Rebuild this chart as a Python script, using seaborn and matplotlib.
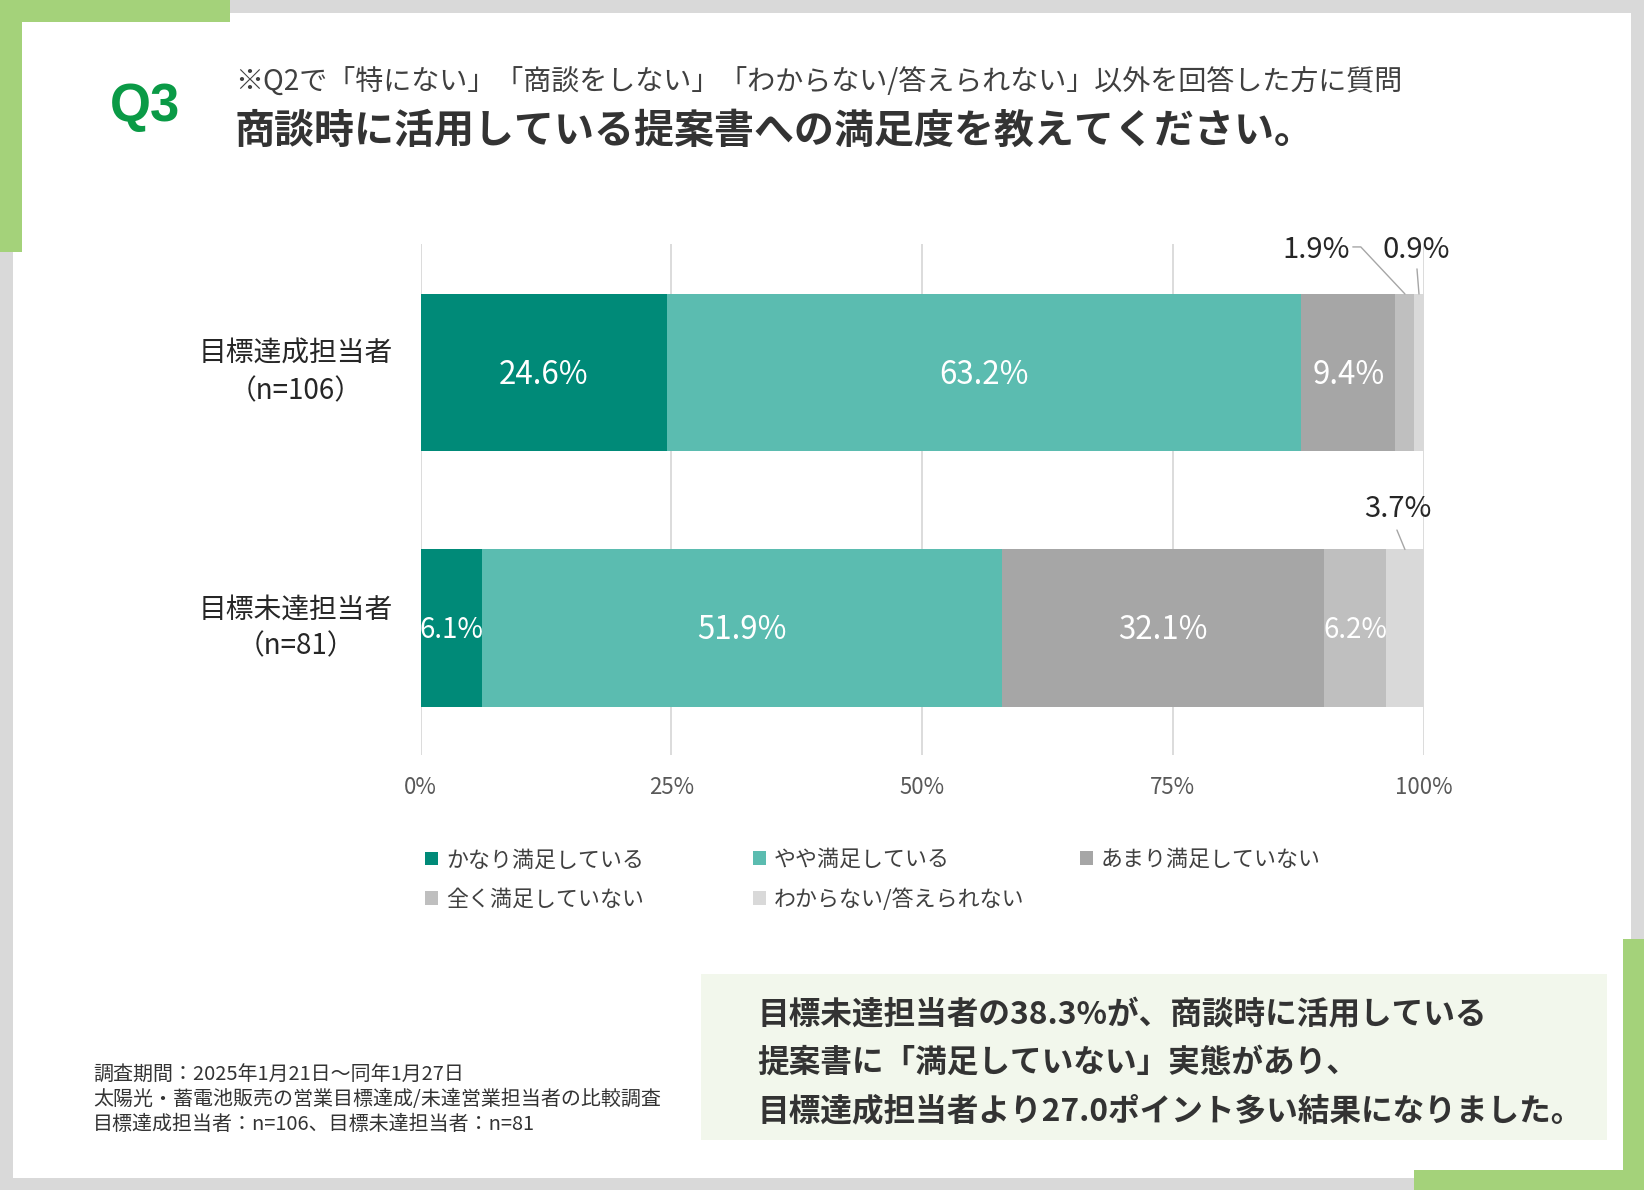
import matplotlib.pyplot as plt
import seaborn as sns
from matplotlib.patches import Rectangle, Patch

# データ
groups = ["目標達成担当者", "目標未達担当者"]
sample_sizes = [106, 81]
answers = ["かなり満足している", "やや満足している", "あまり満足していない",
           "全く満足していない", "わからない/答えられない"]
achieved = [24.6, 63.2, 9.4, 1.9, 0.9]
not_achieved = [6.1, 51.9, 32.1, 6.2, 3.7]
colors = ["#008a78", "#5bbcb0", "#a6a6a6", "#bfbfbf", "#d9d9d9"]
ticks = [0, 25, 50, 75, 100]

title = "商談時に活用している提案書への満足度を教えてください。"
subtitle = "※Q2で「特にない」「商談をしない」「わからない/答えられない」以外を回答した方に質問"
notes = ["調査期間：2025年1月21日～同年1月27日",
         "太陽光・蓄電池販売の営業目標達成/未達営業担当者の比較調査",
         "目標達成担当者：n=106、目標未達担当者：n=81"]
summary = ["目標未達担当者の38.3%が、商談時に活用している",
           "提案書に「満足していない」実態があり、",
           "目標達成担当者より27.0ポイント多い結果になりました。"]

sns.set_style("white")
plt.rcParams['font.family'] = ['Noto Sans CJK JP', 'DejaVu Sans']

W, H = 1644, 1190
fig = plt.figure(figsize=(W / 100, H / 100), dpi=100, facecolor="#d9d9d9")


def box(x0, y0, x1, y1, color, z=-2):
    # ピクセル座標（左上原点）で背景の四角形を描く
    fig.add_artist(Rectangle((x0 / W, 1 - y1 / H), (x1 - x0) / W, (y1 - y0) / H,
                             transform=fig.transFigure, facecolor=color,
                             edgecolor="none", zorder=z))


def ftext(x, y, s, **kw):
    fig.text(x / W, 1 - y / H, s, **kw)


# 枠
box(13, 13, 1631, 1178, "white", -3)
green = "#a4d27a"
box(0, 0, 230, 22, green)
box(0, 0, 22, 252, green)
box(1623, 939, 1644, 1190, green)
box(1414, 1170, 1644, 1190, green)
box(701, 974, 1607, 1140, "#f2f7ec")

# 見出し
ftext(145, 121, "Q3", color="#0a9a46", fontsize=38, weight="bold",
      family="Liberation Sans", ha="center", va="baseline")
ftext(235, 83, subtitle, color="#404040", fontsize=20.2, va="center")
ftext(235, 131, title, color="#333333", fontsize=28.8, weight="bold", va="center")

# グラフ
ax = fig.add_axes([420.5 / W, 1 - 755 / H, 1003 / W, 511 / H])
ax.set_facecolor("none")
labels = [f"{g}\n（n={n}）" for g, n in zip(groups, sample_sizes)]
bar_h = 0.615
left = [0.0, 0.0]
for k, ans in enumerate(answers):
    vals = [achieved[k], not_achieved[k]]
    sns.barplot(x=vals, y=labels, left=left, color=colors[k], saturation=1,
                width=bar_h, linewidth=0, ax=ax)
    left = [l + v for l, v in zip(left, vals)]

ax.set_xlim(0, 100)
ax.set_ylim(1.497, -0.503)
ax.set_xticks(ticks)
ax.set_xticklabels([f"{t}%" for t in ticks])
ax.grid(axis="x", color="#d9d9d9", lw=1.3)
ax.set_axisbelow(True)
ax.set_xlabel("")
ax.set_ylabel("")
sns.despine(ax=ax, left=True, bottom=True)
ax.tick_params(axis="x", length=0, pad=15, labelsize=16, labelcolor="#595959")
ax.tick_params(axis="y", length=0, pad=20, labelsize=20, labelcolor="#262626")
for lbl in ax.get_yticklabels():
    lbl.set_multialignment("center")
    lbl.set_linespacing(1.3)
    lbl.set_va("center")

# 数値ラベル
outside = {  # (行, 項目): テキスト位置のずれ, 引き出し線
    (0, 3): ((-8.9, -0.172), [(-5.2, -0.184), (-4.4, -0.184), (0, 0)]),
    (0, 4): ((-0.3, -0.172), [(-0.2, -0.098), (0, 0)]),
    (1, 4): ((-0.75, -0.158), [(-0.8, -0.076), (0, 0)]),
}
for i, row in enumerate([achieved, not_achieved]):
    start = 0
    for k, v in enumerate(row):
        mid = start + v / 2
        start += v
        if (i, k) in outside:
            (dx, dy), line = outside[(i, k)]
            top = i - bar_h / 2
            ax.text(mid + dx, top + dy, f"{v}%", ha="center", va="center",
                    fontsize=21, color="#262626", clip_on=False)
            ax.plot([mid + px for px, py in line], [top + py for px, py in line],
                    color="#a6a6a6", lw=1, clip_on=False)
        else:
            ax.text(mid, i + 0.008, f"{v}%", ha="center", va="center", color="white",
                    fontsize=20 if v < 7 else 22.5)

# 凡例
handles = [Patch(facecolor=c, edgecolor="none", label=a) for a, c in zip(answers, colors)]
cols = [([handles[0], handles[3]], 425, 880), ([handles[1], handles[4]], 753, 880),
        ([handles[2]], 1080, 860)]
for hs, x, y in cols:
    fig.legend(handles=hs, loc="center left", bbox_to_anchor=(x / W, 1 - y / H),
               frameon=False, fontsize=15.8, labelcolor="#404040", borderpad=0,
               borderaxespad=0, handlelength=0.6, handleheight=0.6,
               handletextpad=0.35, labelspacing=0.8)

# 注記
for j, s in enumerate(notes):
    ftext(93, 1075 + j * 24.5, s, fontsize=14.4, color="#333333", va="center")
for j, s in enumerate(summary):
    ftext(757, 1015 + j * 48, s, fontsize=22.8, weight="bold", color="#333333",
          va="center")

fig.savefig("out.png", dpi=100)
